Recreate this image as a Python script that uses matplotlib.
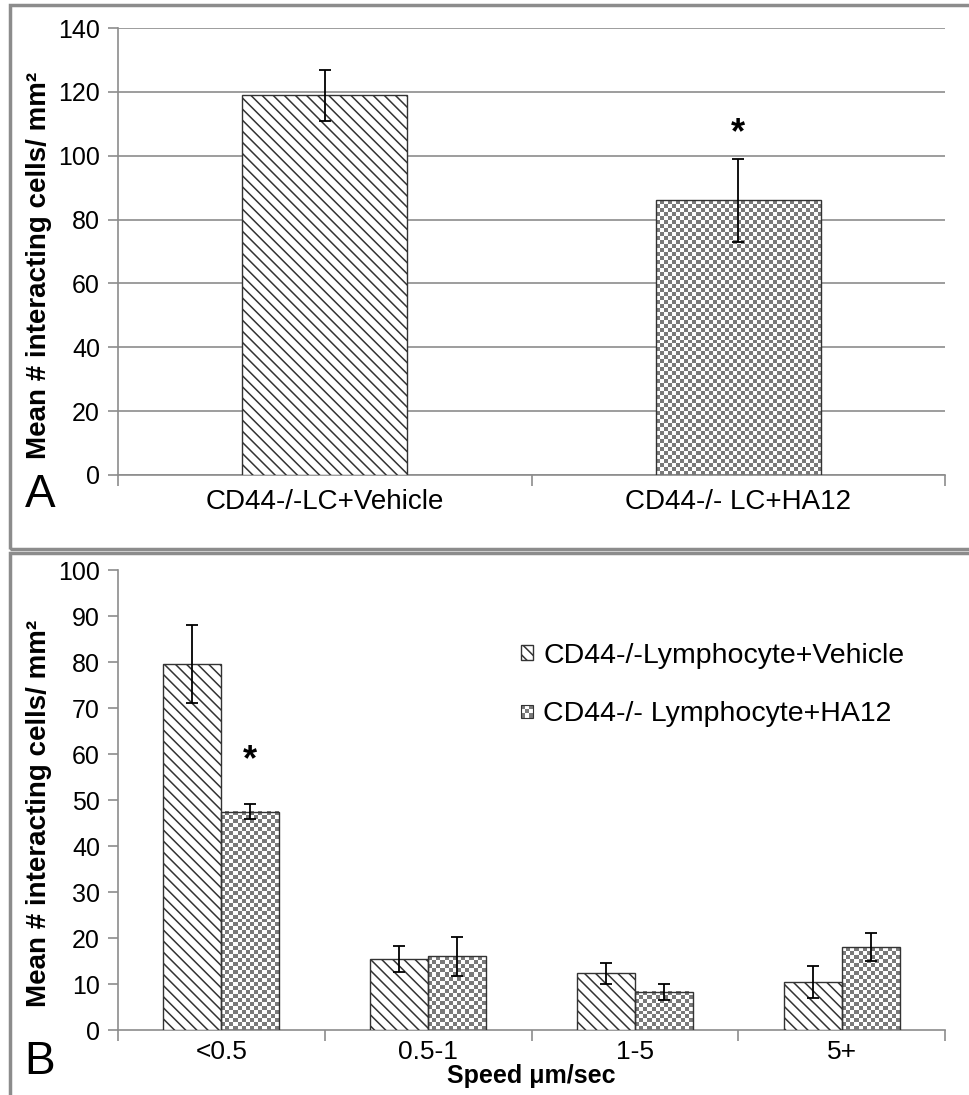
import numpy as np
import matplotlib
matplotlib.use("Agg")
import matplotlib.pyplot as plt
from matplotlib.colors import ListedColormap
from matplotlib.patches import Rectangle
from matplotlib.legend_handler import HandlerBase

plt.rcParams['font.family'] = ['Liberation Sans', 'DejaVu Sans']
plt.rcParams['hatch.linewidth'] = 1.1

# panel A data
groups_a = ['CD44-/-LC+Vehicle', 'CD44-/- LC+HA12']
means_a = [119, 86]
errs_a = [8, 13]

# panel B data
speeds = ['<0.5', '0.5-1', '1-5', '5+']
vehicle_b = [79.5, 15.5, 12.3, 10.5]
vehicle_err = [8.5, 2.8, 2.2, 3.5]
ha12_b = [47.5, 16.0, 8.3, 18.0]
ha12_err = [1.7, 4.3, 1.8, 3.0]
legend_labels = ['CD44-/-Lymphocyte+Vehicle', 'CD44-/- Lymphocyte+HA12']

W, H = 969, 1095
GRAY = '#8c8c8c'
EDGE = '#333333'
checker_cmap = ListedColormap(['white', '#7a7a7a'])

fig = plt.figure(figsize=(W / 100, H / 100), dpi=100)


def ax_at(left, top, right, bottom):
    return fig.add_axes([left / W, 1 - bottom / H, (right - left) / W, (bottom - top) / H])


def style(ax, n):
    for s in ['top', 'right']:
        ax.spines[s].set_visible(False)
    for s in ['left', 'bottom']:
        ax.spines[s].set_color(GRAY)
        ax.spines[s].set_linewidth(1.2)
    ax.set_xlim(-0.5, n - 0.5)
    ax.set_xticks(np.arange(n))
    ax.set_xticks(np.arange(n + 1) - 0.5, minor=True)
    ax.tick_params(axis='x', which='major', length=0, pad=10)
    ax.tick_params(axis='x', which='minor', length=8, width=1.2, color=GRAY)
    ax.tick_params(axis='y', length=7, width=1.2, color=GRAY, pad=6, labelsize=18)


def checker(ax, bars, cell=4.0):
    # fill bars with a checkerboard, clipped to each bar
    for b in bars:
        bb = b.get_window_extent()
        nx = max(1, int(round(bb.width / cell)))
        ny = max(1, int(round(bb.height / cell)))
        grid = np.indices((ny, nx)).sum(axis=0) % 2
        x0, y0 = b.get_x(), b.get_y()
        ax.imshow(grid, cmap=checker_cmap, origin='lower', aspect='auto',
                  interpolation='nearest', zorder=2, clip_path=b,
                  extent=(x0, x0 + b.get_width(), y0, y0 + b.get_height()))


class HandlerChecker(HandlerBase):
    def create_artists(self, legend, orig_handle, xdescent, ydescent,
                       width, height, fontsize, trans):
        s = min(width, height)
        x0 = -xdescent
        y0 = -ydescent + (height - s) / 2
        n = 3
        cw = s / n
        arts = [Rectangle((x0, y0), s, s, facecolor='white', edgecolor='none', transform=trans)]
        for i in range(n):
            for j in range(n):
                if (i + j) % 2 == 0:
                    arts.append(Rectangle((x0 + i * cw, y0 + j * cw), cw, cw,
                                          facecolor='#7a7a7a', edgecolor='none', transform=trans))
        arts.append(Rectangle((x0, y0), s, s, fill=False, edgecolor=EDGE, lw=0.8, transform=trans))
        return arts


# ---------------- panel A ----------------
axA = ax_at(118, 28, 945, 475)
style(axA, 2)
axA.set_ylim(0, 140)
axA.set_yticks(np.arange(0, 141, 20))
axA.yaxis.grid(True, color=GRAY, lw=1.2)
axA.set_axisbelow(True)
xa = np.arange(2)
axA.set_xticklabels(groups_a, fontsize=20)
axA.bar(xa[0], means_a[0], 0.4, facecolor='white', edgecolor=EDGE, hatch='\\\\\\', lw=1, zorder=3)
cb = axA.bar(xa[1], means_a[1], 0.4, facecolor='none', edgecolor=EDGE, lw=1, zorder=3)
checker(axA, cb)
axA.errorbar(xa, means_a, yerr=errs_a, fmt='none', ecolor='black', elinewidth=1.3,
             capsize=4, capthick=1.3, zorder=4)
axA.set_xlim(-0.5, 1.5)
axA.set_ylim(0, 140)
axA.text(xa[1], 107, '*', ha='center', va='center', fontsize=26, fontweight='bold')
axA.set_ylabel('Mean # interacting cells/ mm²', fontsize=20, fontweight='bold')
axA.yaxis.set_label_coords(-0.08, 0.47)

# ---------------- panel B ----------------
axB = ax_at(118, 570, 945, 1030)
style(axB, 4)
axB.set_ylim(0, 100)
axB.set_yticks(np.arange(0, 101, 10))
xb = np.arange(4)
w = 0.28
axB.set_xticklabels(speeds, fontsize=19)
axB.tick_params(axis='x', which='major', pad=7)
vb = axB.bar(xb - w / 2, vehicle_b, w, facecolor='white', edgecolor=EDGE,
             hatch='\\\\\\', lw=1, zorder=3, label=legend_labels[0])
hb = axB.bar(xb + w / 2, ha12_b, w, facecolor='none', edgecolor=EDGE, lw=1,
             zorder=3, label=legend_labels[1])
checker(axB, hb)
axB.errorbar(xb - w / 2, vehicle_b, yerr=vehicle_err, fmt='none', ecolor='black',
             elinewidth=1.3, capsize=4, capthick=1.3, zorder=4)
axB.errorbar(xb + w / 2, ha12_b, yerr=ha12_err, fmt='none', ecolor='black',
             elinewidth=1.3, capsize=4, capthick=1.3, zorder=4)
axB.set_xlim(-0.5, 3.5)
axB.set_ylim(0, 100)
axB.text(xb[0] + w / 2, 58.5, '*', ha='center', va='center', fontsize=26, fontweight='bold')
axB.set_ylabel('Mean # interacting cells/ mm²', fontsize=20, fontweight='bold')
axB.yaxis.set_label_coords(-0.08, 0.47)
axB.set_xlabel('Speed μm/sec', fontsize=18, fontweight='bold', labelpad=0)

axB.legend([vb, hb], legend_labels, handler_map={hb: HandlerChecker()},
           loc='upper left', bbox_to_anchor=(495 / W, 1 - 617 / H),
           bbox_transform=fig.transFigure, frameon=False, fontsize=20.5,
           handlelength=0.45, handleheight=0.45, handletextpad=0.35, labelspacing=1.15)

# panel letters and frames
fig.text(40 / W, 1 - 495 / H, 'A', fontsize=33, ha='center', va='center')
fig.text(40 / W, 1 - 1062 / H, 'B', fontsize=33, ha='center', va='center')
fig.add_artist(Rectangle((10 / W, 1 - 549 / H), 980 / W, 544 / H, transform=fig.transFigure,
                         fill=False, edgecolor=GRAY, lw=2.5))
fig.add_artist(Rectangle((10 / W, -0.05), 980 / W, 1 - 553 / H + 0.05, transform=fig.transFigure,
                         fill=False, edgecolor=GRAY, lw=2.5))

fig.savefig('out.png', dpi=100, facecolor='white')
